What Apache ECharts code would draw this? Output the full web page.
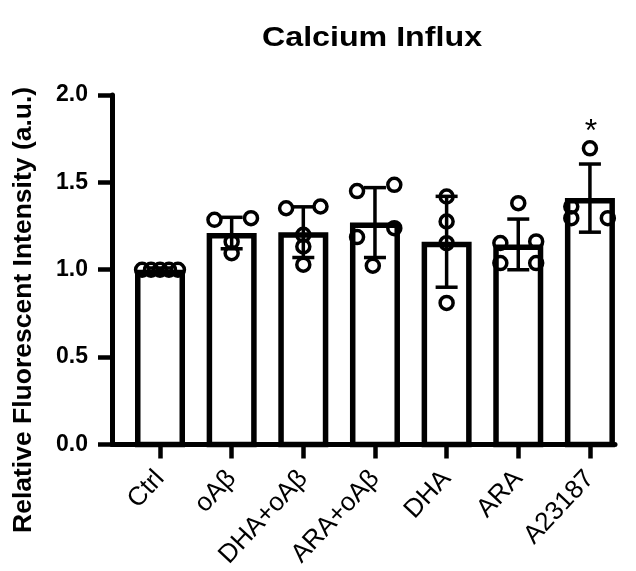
<!DOCTYPE html>
<html>
<head>
<meta charset="utf-8">
<script src="https://cdn.jsdelivr.net/npm/echarts@6/dist/echarts.min.js"></script>
<style>
html,body{margin:0;padding:0;background:#fff;}
#chart{width:636px;height:571px;}
</style>
</head>
<body>
<div id="chart"></div>
<script>
// ---- data ----
var categories = ['Ctrl', 'oAβ', 'DHA+oAβ', 'ARA+oAβ', 'DHA', 'ARA', 'A23187'];
var means = [1.00, 1.21, 1.215, 1.27, 1.16, 1.145, 1.41];
var sds = [0.01, 0.09, 0.145, 0.20, 0.26, 0.145, 0.195];
var significance = ['', '', '', '', '', '', '*'];
var yTicks = [0, 0.5, 1.0, 1.5, 2.0];

// individual points per group (values) and their horizontal jitter (category units)
var pointsCtrl = [1.00, 1.00, 1.00, 1.00, 1.00];
var jitterCtrl = [-0.25, -0.125, 0, 0.125, 0.25];
var pointsOAb = [1.286, 1.295, 1.16, 1.095];
var jitterOAb = [-0.24, 0.27, 0, 0];
var pointsDhaOAb = [1.352, 1.362, 1.20, 1.133, 1.029];
var jitterDhaOAb = [-0.24, 0.24, 0, 0, 0];
var pointsAraOAb = [1.45, 1.486, 1.187, 1.238, 1.023];
var jitterAraOAb = [-0.25, 0.27, -0.25, 0.27, -0.03];
var pointsDha = [1.419, 1.276, 1.152, 0.81];
var jitterDha = [0, 0, 0, 0];
var pointsAra = [1.381, 1.153, 1.162, 1.038, 1.038];
var jitterAra = [0, -0.25, 0.25, -0.25, 0.25];
var pointsA23187 = [1.695, 1.362, 1.295, 1.295];
var jitterA23187 = [0, -0.26, -0.26, 0.25];

var groupPoints = [pointsCtrl, pointsOAb, pointsDhaOAb, pointsAraOAb, pointsDha, pointsAra, pointsA23187];
var groupJitter = [jitterCtrl, jitterOAb, jitterDhaOAb, jitterAraOAb, jitterDha, jitterAra, jitterA23187];

// ---- build chart ----
var FONT = 'Liberation Sans, Arial, sans-serif';
var scatterData = [];
groupPoints.forEach(function (pts, i) {
  pts.forEach(function (v, k) { scatterData.push([i + groupJitter[i][k], v]); });
});
var barData = means.map(function (m, i) { return [i, m]; });
var errData = means.map(function (m, i) { return [i, m - sds[i], m + sds[i]]; });
var idx = categories.map(function (c, i) { return i; });

var chart = echarts.init(document.getElementById('chart'), null, {renderer: 'canvas'});
var BW = 5.5, HALF = 25;
chart.setOption({
  animation: false,
  backgroundColor: '#fff',
  grid: {left: 112, right: 21, top: 95, bottom: 126},
  xAxis: {
    type: 'value', min: -0.67, max: 6.35,
    splitLine: {show: false},
    axisLine: {show: true, onZero: false, lineStyle: {color: '#000', width: 5}},
    axisTick: {show: true, customValues: idx, length: 14, lineStyle: {color: '#000', width: 4.5}},
    axisLabel: {
      customValues: idx, rotate: 47, margin: 30, color: '#000',
      fontFamily: FONT, fontSize: 26,
      formatter: function (v) { return categories[Math.round(v)]; }
    }
  },
  yAxis: {
    type: 'value', min: 0, max: 2, interval: 0.5,
    splitLine: {show: false},
    axisLine: {show: true, onZero: false, lineStyle: {color: '#000', width: 5}},
    axisTick: {show: true, length: 14, lineStyle: {color: '#000', width: 4.5}},
    axisLabel: {
      margin: 24, color: '#000', fontFamily: FONT, fontWeight: 'bold', fontSize: 23,
      formatter: function (v) { return v.toFixed(1); }
    }
  },
  graphic: [{
    type: 'text', x: 372, y: 38, scaleX: 1.15,
    style: {
      text: 'Calcium Influx', fill: '#000',
      font: 'bold 28px ' + FONT, textAlign: 'center', textVerticalAlign: 'middle'
    }
  }, {
    type: 'text', x: 24, y: 533, rotation: Math.PI / 2,
    style: {
      text: 'Relative Fluorescent Intensity (a.u.)', fill: '#000',
      font: 'bold 26.5px ' + FONT, textAlign: 'left', textVerticalAlign: 'middle'
    }
  }],
  series: [
    {
      type: 'custom', z: 2, data: barData,
      renderItem: function (params, api) {
        var top = api.coord([api.value(0), api.value(1)]);
        var base = api.coord([api.value(0), 0]);
        return {
          type: 'rect',
          shape: {x: top[0] - HALF + BW / 2, y: top[1] + BW / 2, width: 2 * HALF - BW, height: base[1] - top[1] - BW / 2},
          style: {fill: '#fff', stroke: '#000', lineWidth: BW}
        };
      }
    },
    {
      type: 'custom', z: 3, data: errData,
      renderItem: function (params, api) {
        var x = api.value(0);
        var lo = api.coord([x, api.value(1)]);
        var hi = api.coord([x, api.value(2)]);
        var cw = 11;
        var st = {stroke: '#000', lineWidth: 3.5, fill: null};
        var children = [
          {type: 'line', shape: {x1: lo[0], y1: lo[1], x2: hi[0], y2: hi[1]}, style: st},
          {type: 'line', shape: {x1: hi[0] - cw, y1: hi[1], x2: hi[0] + cw, y2: hi[1]}, style: st},
          {type: 'line', shape: {x1: lo[0] - cw, y1: lo[1], x2: lo[0] + cw, y2: lo[1]}, style: st}
        ];
        var sig = significance[params.dataIndex];
        if (sig) {
          children.push({
            type: 'text', x: hi[0] + 1, y: hi[1] - 32,
            style: {text: sig, font: '32px ' + FONT, fill: '#000', textAlign: 'center', textVerticalAlign: 'middle'}
          });
        }
        return {type: 'group', children: children};
      }
    },
    {
      type: 'scatter', z: 4, data: scatterData,
      symbol: 'circle', symbolSize: 13,
      itemStyle: {color: 'rgba(0,0,0,0)', borderColor: '#000', borderWidth: 3.5, opacity: 1}
    }
  ]
});
</script>
</body>
</html>
